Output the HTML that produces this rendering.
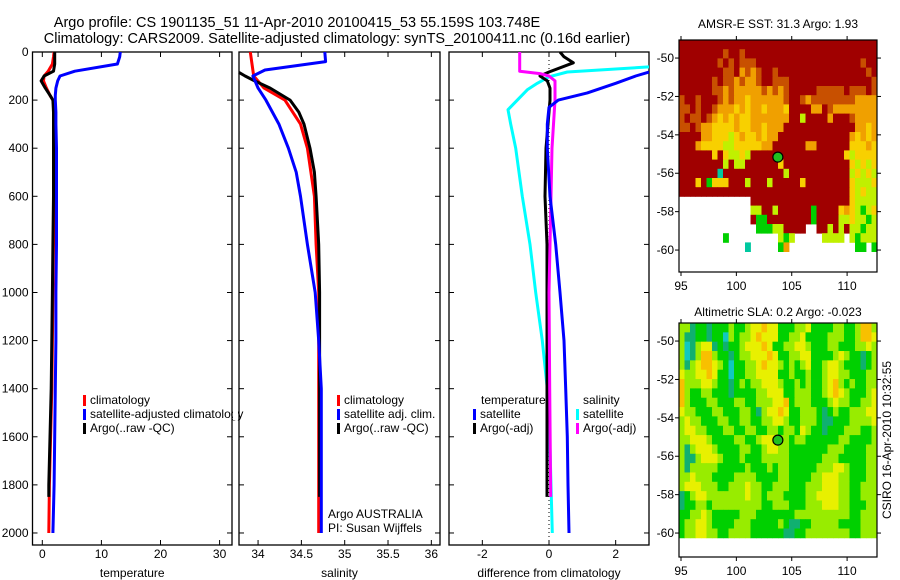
<!DOCTYPE html>
<html><head><meta charset="utf-8">
<style>
html,body{margin:0;padding:0;background:#fff;}
svg{display:block;font-family:"Liberation Sans",sans-serif;}
</style></head>
<body>
<svg id="chart" width="900" height="580" viewBox="0 0 900 580" xmlns="http://www.w3.org/2000/svg">
<text x="297" y="27" font-size="14.5" text-anchor="middle">Argo profile: CS 1901135_51 11-Apr-2010 20100415_53 55.159S 103.748E</text>
<text x="337" y="43" font-size="14.5" text-anchor="middle">Climatology: CARS2009. Satellite-adjusted climatology: synTS_20100411.nc (0.16d earlier)</text>
<g id="layer"></g>
</svg>
<script>
// ---- profile data ----
const tDepth = [0,20,50,80,100,120,150,180,200,250,300,400,500,600,800,1000,1200,1400,1600,1800,2000];
const tClim  = [2.0,1.9,1.7,1.0,0.3,0.2,0.7,1.3,1.8,2.1,2.1,2.1,2.1,2.0,1.9,1.8,1.7,1.6,1.4,1.2,1.1];
const tArgoDepth = [0,20,50,80,100,120,150,180,200,250,300,400,500,600,800,1000,1200,1400,1600,1800,1850];
const tArgo  = [2.1,2.1,2.1,1.9,0.3,-0.2,0.5,1.3,1.8,1.9,1.9,1.9,1.9,1.9,1.8,1.7,1.6,1.5,1.3,1.1,1.1];
const tSat   = [13.2,13.1,12.7,5.5,3.0,2.6,2.3,2.2,2.2,2.3,2.3,2.4,2.4,2.4,2.4,2.3,2.3,2.2,2.1,2.0,1.8];

const sDepth = [0,50,100,150,200,250,300,400,500,600,800,1000,1200,1400,1600,1800,2000];
const sClim  = [33.91,33.93,33.95,34.07,34.31,34.40,34.49,34.57,34.61,34.65,34.67,34.70,34.70,34.70,34.70,34.70,34.70];
const sArgoDepth = [85,100,120,150,200,250,300,400,500,600,800,1000,1200,1400,1600,1850];
const sArgo  = [33.78,33.85,33.96,34.14,34.37,34.47,34.53,34.60,34.65,34.67,34.70,34.71,34.71,34.71,34.71,34.71];
const sSatDepth = [0,40,75,100,150,200,300,400,500,600,800,1000,1200,1400,1600,1800,2000];
const sSat   = [34.77,34.78,34.08,33.94,34.00,34.09,34.24,34.35,34.44,34.49,34.57,34.66,34.70,34.73,34.73,34.73,34.73];

const dTSatDepth = [83,100,130,170,200,230,300,400,600,800,1000,1200,1400,1600,1800,2000];
const dTSat  = [3.0,2.6,2.0,1.15,0.28,0.0,-0.05,-0.05,0.03,0.2,0.33,0.45,0.5,0.55,0.57,0.6];
const dSSatDepth = [62,83,103,130,157,240,300,400,600,800,1000,1200,1400,1600,1800,2000];
const dSSat  = [3.0,0.55,0.0,-0.35,-0.65,-1.23,-1.15,-1.0,-0.8,-0.57,-0.4,-0.2,-0.05,0.02,0.06,0.1];
const dSArgoDepth = [0,80,90,100,120,200,400,600,1000,1400,1850];
const dSArgo = [-0.88,-0.88,-0.27,0.0,0.18,0.18,0.09,0.06,0.0,0.02,0.05];
const dTArgoDepth = [0,20,45,83,100,120,150,200,400,600,800,1000,1400,1850];
const dTArgo = [0.33,0.45,0.73,0.0,-0.27,-0.05,0.03,0.03,-0.09,-0.12,-0.06,-0.06,-0.06,-0.06];

const tTicks = [0,10,20,30];
const sTicks = [34,34.5,35,35.5,36];
const sTickLabels = ["34","34.5","35","35.5","36"];
const dTicks = [-2,0,2];
const depthTicks = [0,200,400,600,800,1000,1200,1400,1600,1800,2000];

// ---- map data (rows north->south, cols west->east) ----
const sstRows = [
"RRRRRRRRRRRRRRRRRRRRRRRRRRRRRRRRRRRR",
"RRRRRRRRoRRoRRRRRRRRRRRRRRRRRRRRRRRR",
"RRRRRRRoRoRoooRRRRRRRRRRRRRRRRRRRoRR",
"RRRRRRRRooROoOoRRoRRRRRRRRRRRRRRRRoR",
"RRRRRRoRooOoOOoRRoooRRRRRRRRRRRRRRRo",
"RRRRRRooOoOOOOOoOoOoRRRRRoooooRoooRo",
"oRRoRRRoOoOOYOOOOOOoRRoOooooooooOOOO",
"ooRoRRoOOOYOYOOYOOOYRRRROORoOOOOOOOO",
"oRooRoOYOYOYYOOOOOOORRLRRRRORRRoOOOO",
"ooRoOOYYYYOYYOOYOOORRRRRRRRRRRRROOYO",
"RRRROOYYYLYOYYOYOORRRRRRRRRRRRROYOYO",
"RRROYYYYLLYYYYYOORRRRRROORRRRRRYYYOY",
"RRRRRRYRYLLYLRRRRRRRRRRRRRRRRRYLYYYY",
"RRRRRRRRLRLLRRRRRRYRRRRRRRRRRRRYLYLY",
"RRRRRRRTRRRRRRRRRRRLRRRRRRRRRRRLYLYL",
"RRRYRGYYYRRRLRRRLRRRRRYRRRRRRRRYLLLY",
"RRRRRRRRRRRRRRRRRRRRRRRRRRRRRRRYLYLL",
"WWWWWWWWWWWWWRRRRRRRRRRRRRRRRRRYLLLL",
"WWWWWWWWWWWWWLLRRLRRRRRRGRRRRYOYLGLY",
"WWWWWWWWWWWWWRGGRRRRRRRRGRRRRLLYLLGL",
"WWWWWWWWWWWWWWGGGLLRRRRWWRRLRLRLLGLL",
"WWWWWWWWGWWWWWWWWWLGLWWWWWLLLLWLGLLL",
"WWWWWWWWWWWWTWWWWWGOWWWWWWWWWWWWGGWG",
"WWWWWWWWWWWWWWWWWWWWWWWWWWWWWWWWWWWW"];
const slaRows = [
"LLgGGgGGGLGGLYYOYYGGGLLYGGGGLLGGLOOL",
"LggGGgGGCLGLLYOYYYGGLLYGGGGLLLGGLOOY",
"LCgLYYgGgGGLYYYOYGGLLYYLGGGLLGGGLLYL",
"LCgLOOLGGgGLLYYYOYGGLLYYGGGGLYLGGgGL",
"LgLYOOYLGCGGLLYOYYLGLGLYGGLYYLGGGgGL",
"YLLYYOYGGCGGLLYYYYGGLGGLGGLYYLLGGGLL",
"OLLLYYLGGgGLGLLYYYLGGLGLGGLYOLGLGGLL",
"OLGGLLGGGgGGGGLLYYYGGLLLGGLYOYLGGGLY",
"OLGGGLLGGGLLGGLLLYYOGLLLGGGLYLLGGLLY",
"YLLGGGLLGGGLLGgLYYOYGGLLLGgGLGGLLLYY",
"LYLLGGGLLGGLLGGLLYYLGGLLLGggGGGLLLLY",
"LYYLLGGGLLGGLLGGLLGLLGYLGGgGGGLLLGGL",
"LLYYYLGGGGLLGGLYYYLLGLLGGGGGGLLGGGGL",
"LgLYYYLGGGGLLGGLYYLLGGGGGGGLLLGGGGLL",
"LggLYYYLGGGLGGGLLLLLGGGGGGLLLGGGGGLL",
"LgLLLLLGGGGGLGGGLGLLGGGGGLLLYYLGGGLL",
"LLYLLLGGGGLLLLGGGGLLGGGGLLYYYLLGGGLL",
"LYYYLLLGGLLLYLLGGLLLGGGLLLYYYLLGGLLL",
"gGLYYLLLLLLLYLLGLLLGGGGLLYYYYLLGGLLL",
"gGGLLGLLLLLLLLLGGLLLGGGLLLYYYLLGGGLL",
"GGLLYLGGGGGLLLGGGGGGGLLLLLLLLLLGGLLL",
"GLLYYLGGGGLLLGGGGGLGggGGLLLLLGGGGLLL",
"GLLYYLLGGLLLLGGGGGGggGGLLLLLLLLGGLLL"];
const argoLon = [103.748];
const argoLat = [-55.159];
const lonTicks = [95,100,105,110];
const latTicks = [-50,-52,-54,-56,-58,-60];

const NS = "http://www.w3.org/2000/svg";
const layer = document.getElementById('layer');
function mk(tag, attrs, parent){ const e=document.createElementNS(NS,tag); for(const k in attrs) e.setAttribute(k,attrs[k]); (parent||layer).appendChild(e); return e; }
function txt(x,y,s,size,anchor,parent){ const t=mk('text',{x:x,y:y,'font-size':size,'text-anchor':anchor||'middle'},parent); t.textContent=s; return t; }

// depth axis shared
const Y0=52, Y1=545, D1=2050;
const yD = d => Y0 + d*(Y1-Y0)/D1;

function panel(name, x0, x1, vmin, vmax){
  const g = mk('g',{});
  
  
  mk('rect',{x:x0,y:Y0,width:x1-x0,height:Y1-Y0,fill:'none',stroke:'#000','stroke-width':1.3},g);
  const xf = v => x0 + (v-vmin)*(x1-x0)/(vmax-vmin);
  return {g, xf, x0, x1};
}
function line(p, vals, depths, color, w, name){
  const pts = vals.map((v,i)=> p.xf(v).toFixed(1)+','+yD(depths[i]).toFixed(1)).join(' ');
  const l = mk('polyline',{points:pts,fill:'none',stroke:color,'stroke-width':w||3,'stroke-linejoin':'round'},p.g);
  
  
  return l;
}
function xTicks(p, ticks, labels, title){
  ticks.forEach((t,i)=>{
    const x=p.xf(t);
    mk('line',{x1:x,y1:Y1,x2:x,y2:Y1-5,stroke:'#000'},p.g);
    mk('line',{x1:x,y1:Y0,x2:x,y2:Y0+5,stroke:'#000'},p.g);
    const lb = txt(x,558,labels?labels[i]:String(t),12,'middle',p.g);
    
    
  });
  const tt = txt((p.x0+p.x1)/2,577,title,12,'middle',p.g);
  
  
}
function yTicks(p, labels){
  depthTicks.forEach(d=>{
    const y=yD(d);
    mk('line',{x1:p.x0,y1:y,x2:p.x0+5,y2:y,stroke:'#000'},p.g);
    mk('line',{x1:p.x1,y1:y,x2:p.x1-5,y2:y,stroke:'#000'},p.g);
    if(labels){ const l=txt(p.x0-4,y+4,String(d),12,'end',p.g);
      
       }
  });
}
function legend(p, x, y, color, label){
  mk('rect',{x:x,y:y-9,width:3,height:11,fill:color},p.g);
  const t=txt(x+7,y,label,12,'start',p.g);
  
  
}

// Panel 1 temperature
const p1 = panel('temperature-panel', 32.5, 232, -1.66, 32.1);
yTicks(p1,true); xTicks(p1,tTicks,null,'temperature');
line(p1,tClim,tDepth,'#f00',3,'temp-climatology-line');
line(p1,tArgo,tArgoDepth,'#000',3,'temp-argo-line');
line(p1,tSat,tDepth,'#00f',3,'temp-satellite-line');
legend(p1,83,404,'#f00','climatology');
legend(p1,83,418,'#00f','satellite-adjusted climatology');
legend(p1,83,432,'#000','Argo(..raw -QC)');
mk('rect',{x:233,y:390,width:5,height:30,fill:'#fff'});

// Panel 2 salinity
const p2 = panel('salinity-panel', 239, 440, 33.78, 36.1);
yTicks(p2,false); xTicks(p2,sTicks,sTickLabels,'salinity');
line(p2,sClim,sDepth,'#f00',3,'sal-climatology-line');
line(p2,sArgo,sArgoDepth,'#000',3,'sal-argo-line');
line(p2,sSat,sSatDepth,'#00f',3,'sal-satellite-line');
legend(p2,337,404,'#f00','climatology');
legend(p2,337,418,'#00f','satellite adj. clim.');
legend(p2,337,432,'#000','Argo(..raw -QC)');
let a1=txt(328,518,'Argo AUSTRALIA',12,'start',p2.g);


let a2=txt(328,532,'PI: Susan Wijffels',12,'start',p2.g);



// Panel 3 difference
const p3 = panel('difference-panel', 449, 649, -3.0, 3.0);
yTicks(p3,false); xTicks(p3,dTicks,null,'difference from climatology');
mk('line',{x1:p3.xf(0),y1:Y0,x2:p3.xf(0),y2:Y1,stroke:'#000','stroke-dasharray':'1,3'},p3.g);
const cl = mk('clipPath',{id:'c3'}); mk('rect',{x:449,y:52,width:200,height:493},cl);
const gg = mk('g',{'clip-path':'url(#c3)'},p3.g);
const p3c = {g:gg, xf:p3.xf};
line(p3c,dSSat,dSSatDepth,'#0ff',3,'diff-sal-satellite-line');
line(p3c,dTArgo,dTArgoDepth,'#000',3,'diff-temp-argo-line');
line(p3c,dSArgo,dSArgoDepth,'#f0f',3,'diff-sal-argo-line');
line(p3c,dTSat,dTSatDepth,'#00f',3,'diff-temp-satellite-line');
let lt=txt(481,404,'temperature',12,'start',p3.g);


legend(p3,473,418,'#00f','satellite');
legend(p3,473,432,'#000','Argo(-adj)');
let ls=txt(583,404,'salinity',12,'start',p3.g);


legend(p3,576,418,'#0ff','satellite');
legend(p3,576,432,'#f0f','Argo(-adj)');

// Maps
const MX0=679, MX1=877, LON0=94.82, LON1=112.7;
const LATTOP=-49.06, PXDEG=19.2;
const sstColors={R:'#a00000',o:'#c85000',O:'#f0a000',Y:'#f8d000',L:'#c0f000',G:'#00d000',T:'#00c8a0',W:'#ffffff'};
const slaColors={G:'#00d000',g:'#10b070',L:'#98ec00',Y:'#e8f000',O:'#f8c000',C:'#10c8c0'};
function map(name, top, bottom, rows, colors, latBottom, title, titleY){
  const g = mk('g',{});
  
  
  const lx = v => MX0 + (v-LON0)*(MX1-MX0)/(LON1-LON0);
  const ly = v => top + (LATTOP-v)*PXDEG;
  const nr = rows.length, nc = rows[0].length;
  const dLat = (LATTOP-latBottom)/nr, dLon=(LON1-LON0)/nc;
  rows.forEach((r,i)=>{
    for(let j=0;j<r.length;j++){
      const c = colors[r[j]]; if(!c || c==='#ffffff') continue;
      const x=lx(LON0+j*dLon), y=ly(LATTOP-i*dLat);
      const cell=mk('rect',{x:x.toFixed(2),y:y.toFixed(2),width:(lx(LON0+(j+1)*dLon)-x+0.4).toFixed(2),height:(ly(LATTOP-(i+1)*dLat)-y+0.4).toFixed(2),fill:c},g);
      
      
    }
  });
  mk('rect',{x:MX0,y:top,width:MX1-MX0,height:bottom-top,fill:'none',stroke:'#000','stroke-width':1.2},g);
  lonTicks.forEach(v=>{ const x=lx(v);
    mk('line',{x1:x,y1:bottom,x2:x,y2:bottom+4,stroke:'#000'},g);
    mk('line',{x1:x,y1:top,x2:x,y2:top-4,stroke:'#000'},g);
    const t=txt(x,bottom+18,String(v),12,'middle',g);
    
     });
  latTicks.forEach(v=>{ const y=ly(v);
    mk('line',{x1:MX0,y1:y,x2:MX0-4,y2:y,stroke:'#000'},g);
    mk('line',{x1:MX1,y1:y,x2:MX1+4,y2:y,stroke:'#000'},g);
    const t=txt(MX0-5,y+4,String(v),12,'end',g);
    
     });
  argoLon.forEach((lo,i)=>{
    const dot=mk('circle',{cx:lx(lo),cy:ly(argoLat[i]),r:5,fill:'#20c020',stroke:'#000','stroke-width':1.2},g);
    
    
  });
  const t=txt((MX0+MX1)/2,titleY,title,12,'middle',g);
  
  
}
map('sst-map', 40, 272, sstRows, sstColors, -60.56, 'AMSR-E SST: 31.3 Argo: 1.93', 28);
map('sla-map', 323, 557, slaRows, slaColors, -60.25, 'Altimetric SLA: 0.2 Argo: -0.023', 316);

const cs = txt(0,0,'CSIRO 16-Apr-2010 10:32:55',12,'middle');
cs.setAttribute('transform','translate(891,440) rotate(-90)');


</script>
</body></html>
